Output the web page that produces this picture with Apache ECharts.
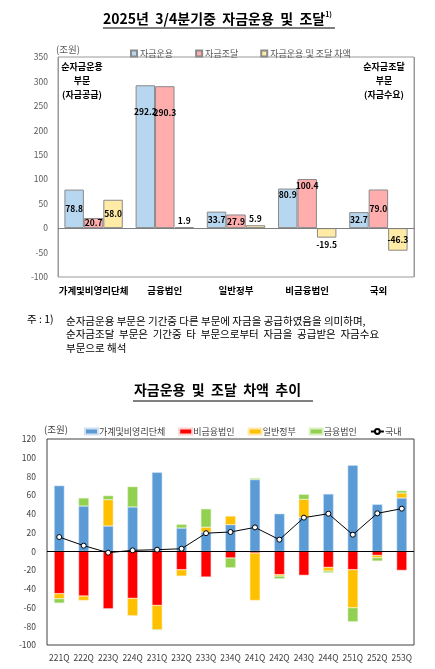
<!DOCTYPE html>
<html><head><meta charset="utf-8">
<script src="https://cdn.jsdelivr.net/npm/echarts@6/dist/echarts.min.js"></script>
<style>html,body{margin:0;padding:0;background:#fff}#c{width:435px;height:669px}</style>
</head><body><div id="c"></div>
<script>
// ---- Top chart data (조원) ----
const sectors = ['가계및비영리단체','금융법인','일반정부','비금융법인','국외'];
const useFunds = [78.8, 292.2, 33.7, 80.9, 32.7];
const raiseFunds = [20.7, 290.3, 27.9, 100.4, 79.0];
const netFunds = [58.0, 1.9, 5.9, -19.5, -46.3];
const topTicks = {min:-100, max:350, interval:50};

// ---- Bottom chart data (조원) ----
const quarters = ['221Q','222Q','223Q','224Q','231Q','232Q','233Q','234Q','241Q','242Q','243Q','244Q','251Q','252Q','253Q'];
const household = [70.2, 48.4, 27.1, 47.4, 84.4, 24.9, 20.5, 28.5, 76.6, 40.2, 36.0, 61.3, 91.9, 50.2, 57.0];
const nonFinCorp = [-45.2, -47.7, -61.3, -50.2, -57.7, -19.6, -27.4, -7.1, -1.8, -24.9, -25.6, -17.1, -19.6, -4.3, -20.3];
const government = [-5.4, -4.7, 28.1, -18.5, -26.0, -6.8, 5.3, 9.2, -50.6, -1.5, 19.6, -3.9, -40.6, -2.5, 5.3];
const finCorp = [-4.6, 8.6, 4.3, 21.7, 0, 3.9, 19.6, -10.4, 1.4, -2.8, 5.3, -1.8, -14.9, -3.5, 2.5];
const domestic = [15.3, 6.1, -1.4, 1.1, 1.8, 2.8, 19.4, 20.7, 25.6, 12.5, 36.0, 40.2, 17.8, 40.6, 45.6];
const bottomTicks = {min:-100, max:120, interval:20};

// label placement (style only)
const labelPlace = {
  use:   [['inside',5],['insideTop',22],['inside',5],['insideTop',2],['inside',5]],
  raise: [['inside',5],['insideTop',22],['inside',5],['insideTop',2],['inside',5]],
  net:   [['inside',5],['top',2],['top',2],['bottom',3],['inside',5]]
};

const FONT = '"Noto Sans CJK KR", "Noto Sans", sans-serif';
const chart = echarts.init(document.getElementById('c'));

function topData(vals, places){
  return vals.map((v,i)=>({value:v, label:{position:places[i][0], distance:places[i][1]}}));
}
const topLabel = {show:true, color:'#000', fontSize:8.5, fontWeight:'bold', fontFamily:FONT,
  formatter: p => p.value.toFixed(1)};

const option = {
  animation:false,
  textStyle:{fontFamily:FONT},
  grid:[
    {left:58, right:21, top:57, height:220, show:true, borderColor:'#999', borderWidth:1, containLabel:false},
    {left:47, right:21, top:439, height:206, show:true, borderColor:'#404040', borderWidth:1, containLabel:false}
  ],
  legend:[
    {left:125, top:44, itemWidth:6, itemHeight:6, itemGap:22, icon:'rect',
     data:['자금운용','자금조달','자금운용 및 조달 차액'],
     textStyle:{fontSize:9, color:'#595959', fontFamily:FONT, padding:[0,0,0,-2]}},
    {left:79, top:422, itemWidth:13, itemHeight:6, itemGap:13,
     data:[{name:'가계및비영리단체',icon:'rect'},{name:'비금융법인',icon:'rect'},{name:'일반정부',icon:'rect'},{name:'금융법인',icon:'rect'},{name:'국내'}],
     textStyle:{fontSize:9, color:'#404040', fontFamily:FONT, padding:[0,0,0,-4]}}
  ],
  xAxis:[
    {type:'category', gridIndex:0, data:sectors, axisTick:{show:false}, axisLine:{show:false},
     axisLabel:{color:'#000', fontWeight:'bold', fontSize:9.5, margin:9, fontFamily:FONT, interval:0},
     splitLine:{show:true, interval:(idx)=>idx===3, lineStyle:{color:'#999', width:1}}},
    {type:'category', gridIndex:1, data:quarters, axisTick:{show:false}, axisLine:{show:false},
     axisLabel:{color:'#404040', fontSize:8.5, margin:9, interval:0, fontFamily:FONT}}
  ],
  yAxis:[
    {type:'value', gridIndex:0, min:topTicks.min, max:topTicks.max, interval:topTicks.interval,
     axisLine:{show:false}, axisTick:{show:false}, splitLine:{show:false},
     axisLabel:{color:'#595959', fontSize:8.5, margin:10, fontFamily:FONT}},
    {type:'value', gridIndex:1, min:bottomTicks.min, max:bottomTicks.max, interval:bottomTicks.interval,
     axisLine:{show:false}, axisTick:{show:false}, splitLine:{show:false},
     axisLabel:{color:'#404040', fontSize:8.5, margin:11, fontFamily:FONT}}
  ],
  series:[
    {name:'자금운용', type:'bar', xAxisIndex:0, yAxisIndex:0, barGap:'0%', barCategoryGap:'18%',
     data:topData(useFunds, labelPlace.use), label:topLabel,
     itemStyle:{color:'#B7D6EF', borderColor:'#8a8a8a', borderWidth:1},
     markLine:{silent:true, symbol:'none', label:{show:false}, lineStyle:{color:'#7f7f7f', type:'solid', width:1},
       data:[{yAxis:0}]}},
    {name:'자금조달', type:'bar', xAxisIndex:0, yAxisIndex:0, barGap:'0%', barCategoryGap:'18%',
     data:topData(raiseFunds, labelPlace.raise), label:topLabel,
     itemStyle:{color:'#FFADAD', borderColor:'#8a8a8a', borderWidth:1}},
    {name:'자금운용 및 조달 차액', type:'bar', xAxisIndex:0, yAxisIndex:0, barGap:'0%', barCategoryGap:'18%',
     data:topData(netFunds, labelPlace.net), label:topLabel,
     itemStyle:{color:'#FFEAA6', borderColor:'#8a8a8a', borderWidth:1}},

    {name:'가계및비영리단체', type:'bar', stack:'s', xAxisIndex:1, yAxisIndex:1, barCategoryGap:'58%',
     data:household, itemStyle:{color:'#5B9BD5', borderColor:'#cfe0f3', borderWidth:0.5}},
    {name:'비금융법인', type:'bar', stack:'s', xAxisIndex:1, yAxisIndex:1, barCategoryGap:'58%',
     data:nonFinCorp, itemStyle:{color:'#FF0000', borderColor:'#ffd0d0', borderWidth:0.5}},
    {name:'일반정부', type:'bar', stack:'s', xAxisIndex:1, yAxisIndex:1, barCategoryGap:'58%',
     data:government, itemStyle:{color:'#FFC000', borderColor:'#ffe9b0', borderWidth:0.5}},
    {name:'금융법인', type:'bar', stack:'s', xAxisIndex:1, yAxisIndex:1, barCategoryGap:'58%',
     data:finCorp, itemStyle:{color:'#92D050', borderColor:'#d8efc3', borderWidth:0.5}},
    {name:'국내', type:'line', xAxisIndex:1, yAxisIndex:1, data:domestic, z:5,
     symbol:'circle', symbolSize:5, lineStyle:{color:'#000', width:1},
     itemStyle:{color:'#fff', borderColor:'#000', borderWidth:1},
     markLine:{silent:true, symbol:'none', label:{show:false}, lineStyle:{color:'#000', type:'solid', width:1.2},
       data:[{yAxis:0}]}}
  ],
  graphic:[
    {type:'text', left:'center', top:11, style:{
      text:'{a|2025년  3/4분기중  자금운용  및  조달}{s|1)}',
      rich:{a:{fontSize:14, fontWeight:'bold', fill:'#000', fontFamily:FONT},
            s:{fontSize:7, fontWeight:'bold', fill:'#000', fontFamily:FONT, padding:[0,0,8,0]}}}},
    {type:'line', shape:{x1:103, y1:28, x2:335, y2:28}, style:{stroke:'#000', lineWidth:1}},
    {type:'text', x:56, y:45, style:{text:'(조원)', fontSize:9.5, fill:'#595959', fontFamily:FONT}},
    {type:'text', x:82, y:60, style:{text:'순자금운용\n부문\n(자금공급)', align:'center', fontSize:9, lineHeight:14, fontWeight:'bold', fill:'#000', fontFamily:FONT}},
    {type:'text', x:384, y:60, style:{text:'순자금조달\n부문\n(자금수요)', align:'center', fontSize:9, lineHeight:14, fontWeight:'bold', fill:'#000', fontFamily:FONT}},
    {type:'text', x:27, y:314, style:{text:'주 : 1)', fontSize:10.5, fill:'#000', fontFamily:FONT}},
    {type:'text', x:66, y:314, style:{text:'순자금운용 부문은 기간중 다른 부문에 자금을 공급하였음을 의미하며,\n순자금조달  부문은  기간중  타  부문으로부터  자금을  공급받은  자금수요\n부문으로 해석', fontSize:10.5, lineHeight:13.5, fill:'#000', fontFamily:FONT}},
    {type:'text', left:'center', top:383, style:{text:'자금운용  및  조달  차액  추이', fontSize:14, fontWeight:'bold', fill:'#000', fontFamily:FONT}},
    {type:'line', shape:{x1:133, y1:401, x2:313, y2:401}, style:{stroke:'#000', lineWidth:1}},
    {type:'text', x:44, y:425, style:{text:'(조원)', fontSize:9.5, fill:'#404040', fontFamily:FONT}}
  ]
};
chart.setOption(option);
</script>
</body></html>
